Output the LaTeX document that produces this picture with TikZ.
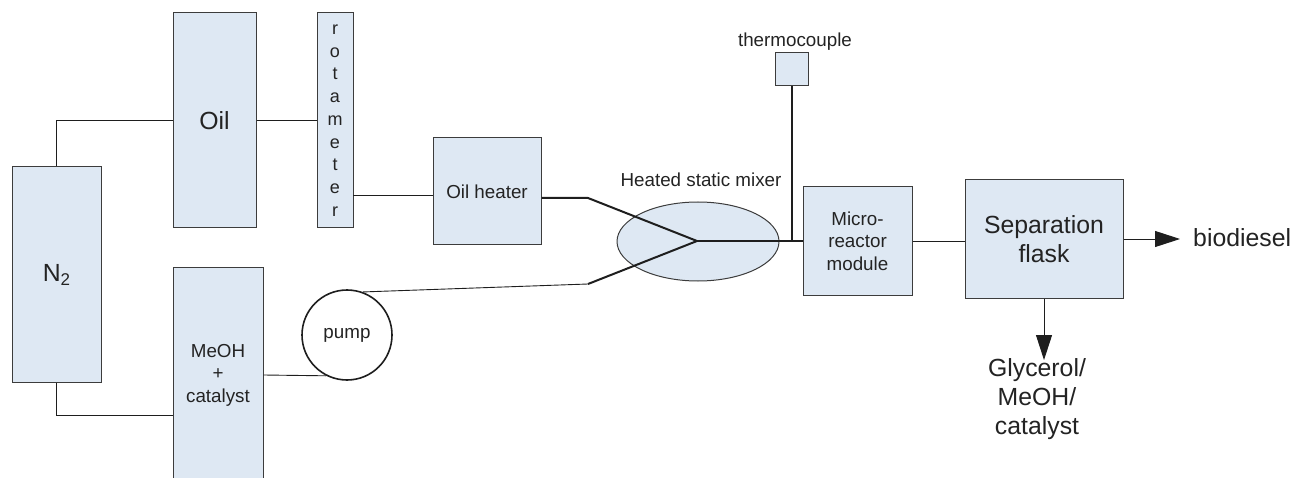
\documentclass[tikz,border=0pt]{standalone}
\usepackage{fontspec}
\setmainfont{Liberation Sans}
\usetikzlibrary{shapes.geometric,arrows.meta}
\definecolor{boxfill}{RGB}{222,232,243}
\definecolor{boxline}{RGB}{60,60,60}
\definecolor{wirecol}{RGB}{30,30,30}
\definecolor{txt}{RGB}{35,35,35}
\newcommand\fsmall{\fontsize{18.8}{22.5}\selectfont}
\newcommand\fbig{\fontsize{24.8}{29}\selectfont}
\begin{document}
\begin{tikzpicture}[x=1pt,y=-1pt,
  unit/.style={draw=boxline, fill=boxfill, line width=1pt, inner sep=0pt, align=center, font=\fsmall, text=txt},
  wire/.style={draw=wirecol, line width=0.9pt},
  thickwire/.style={draw=wirecol, line width=2pt},
  flowarrow/.style={draw=wirecol, line width=0.9pt, -{Triangle[length=25pt,width=16pt]}},
  lbl/.style={font=\fsmall, text=txt}]
\useasboundingbox (0,0) rectangle (1292,478);

% units
\node[unit, font=\fbig, minimum width=89, minimum height=215] (n2) at (56.5,274.5) {N\raisebox{-4pt}{\fontsize{17}{17}\selectfont 2}};
\node[unit, font=\fbig, minimum width=83, minimum height=215] (oil) at (214.5,120.5) {Oil};
\node[unit, font=\fontsize{18}{22.7}\selectfont, minimum width=36, minimum height=215] (rot) at (335,120.5) {r\\o\\t\\a\\m\\e\\t\\e\\r};
\node[unit, minimum width=108, minimum height=107] (heater) at (487,191.5) {Oil heater};
\node[unit, minimum width=90, minimum height=216] (meoh) at (218,375) {MeOH\\+\\catalyst};
\node[draw=wirecol, fill=white, circle, line width=1.6pt, minimum size=90, inner sep=0pt, font=\fsmall, text=txt] (pump) at (347,335) {pump};
\node[ellipse, draw=boxline, fill=boxfill, line width=1pt, minimum width=162, minimum height=79, inner sep=0pt] (mixer) at (698,241.5) {};
\node[lbl] (mixlabel) at (701,180) {Heated static mixer};
\node[unit, minimum width=33, minimum height=33] (tc) at (791.5,69.5) {};
\node[lbl] (tclabel) at (795,42) {thermocouple};
\node[unit, minimum width=109, minimum height=108] (micro) at (857.5,241) {Micro-\\reactor\\module};
\node[unit, font=\fbig, minimum width=158, minimum height=118] (sep) at (1044,239) {Separation\\flask};
\node[font=\fbig, text=txt, anchor=west, inner sep=0pt] (bio) at (1193,238) {biodiesel};
\node[font=\fbig, text=txt, align=center] (gly) at (1037,399) {Glycerol/\\MeOH/\\catalyst};

% helper coordinates
\coordinate (mwin) at (173,415);
\coordinate (rotout) at (353,195);
\coordinate (mc) at (697,241);
\coordinate (lb) at (588,284);
\coordinate (ub) at (588,198);
\coordinate (glytip) at (1044,360);

% connectors
\draw[wire] (n2.north) |- (oil.west);
\draw[wire] (n2.south) |- (mwin);
\draw[wire] (oil) -- (rot);
\draw[wire] (rotout) -- (rotout -| heater.west);
\draw[wire] (meoh.east) -- (pump.-117);
\draw[wire] (pump.70) -- (lb);
\draw[thickwire] (lb) -- (mc);
\draw[thickwire] (heater.east |- ub) -- (ub) -- (mc);
\draw[thickwire] (mc) -- (micro.west);
\draw[thickwire] (tc.south) -- (tc.south |- micro.west);
\draw[wire] (micro.east) -- (micro.east -| sep.west);
\draw[flowarrow, shorten >=13pt] (sep.east) -- (sep.east -| bio.west);
\draw[flowarrow] (sep.south) -- (glytip);
\end{tikzpicture}
\end{document}
